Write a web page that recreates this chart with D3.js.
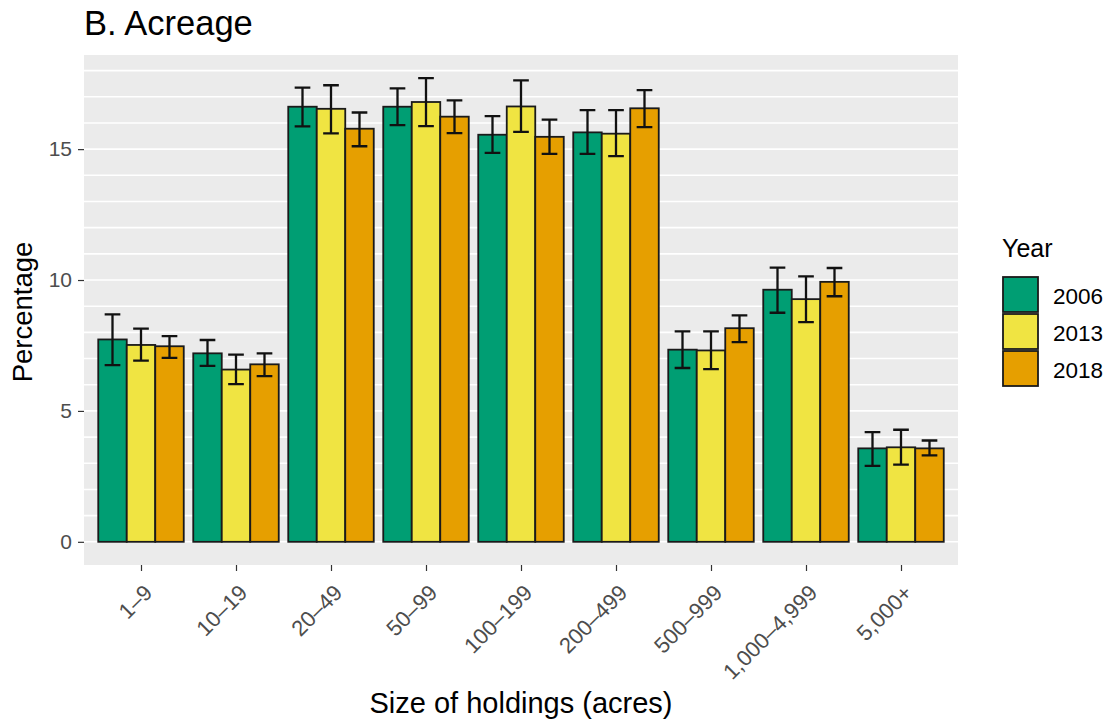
<!DOCTYPE html>
<html>
<head>
<meta charset="utf-8">
<script src="https://cdn.jsdelivr.net/npm/d3@7"></script>
<style>
  html, body { margin: 0; padding: 0; background: #fff; }
  svg { display: block; font-family: "Liberation Sans", Arial, sans-serif; }
</style>
</head>
<body>
<svg id="chart" width="1114" height="725"></svg>
<script>
// Size classes of holdings (acres)
const categories = ["1–9", "10–19", "20–49", "50–99", "100–199", "200–499", "500–999", "1,000–4,999", "5,000+"];
const years = ["2006", "2013", "2018"];
const colors = ["#009E73", "#F0E442", "#E69F00"];

// Percentage of acreage per size class, one array per year
const pct2006 = [7.73, 7.20, 16.62, 16.62, 15.55, 15.64, 7.34, 9.63, 3.57];
const pct2013 = [7.52, 6.58, 16.54, 16.80, 16.63, 15.59, 7.31, 9.27, 3.61];
const pct2018 = [7.47, 6.78, 15.78, 16.24, 15.47, 16.56, 8.16, 9.93, 3.57];

// Error bar bounds
const lo2006 = [6.75, 6.72, 15.87, 15.92, 14.86, 14.82, 6.64, 8.75, 2.90];
const hi2006 = [8.69, 7.71, 17.35, 17.32, 16.26, 16.49, 8.04, 10.47, 4.19];
const lo2013 = [6.92, 6.02, 15.60, 15.88, 15.66, 14.73, 6.60, 8.39, 2.95];
const hi2013 = [8.14, 7.15, 17.44, 17.71, 17.63, 16.49, 8.04, 10.14, 4.28];
const lo2018 = [7.03, 6.33, 15.11, 15.61, 14.82, 15.84, 7.63, 9.38, 3.30];
const hi2018 = [7.86, 7.20, 16.40, 16.86, 16.13, 17.25, 8.65, 10.46, 3.87];

const yTicks = [0, 5, 10, 15];
const yGrid = d3.range(0, 19);

const series = [
  { year: years[0], vals: pct2006, lo: lo2006, hi: hi2006 },
  { year: years[1], vals: pct2013, lo: lo2013, hi: hi2013 },
  { year: years[2], vals: pct2018, lo: lo2018, hi: hi2018 }
];
const rows = [];
series.forEach((s, si) => {
  categories.forEach((c, ci) => {
    rows.push({ cat: c, year: s.year, si, v: s.vals[ci], lo: s.lo[ci], hi: s.hi[ci] });
  });
});

const svg = d3.select("#chart");
const panel = { left: 84, right: 958, top: 55, bottom: 565 };
const FONT = "'Liberation Sans', Arial, sans-serif";

// Discrete x with 0.6-unit padding on each side, bars dodged at width 0.9
const nCat = categories.length;
const unit = (panel.right - panel.left) / (nCat - 1 + 1.2);
const x = d3.scalePoint().domain(categories)
  .range([panel.left + 0.6 * unit, panel.right - 0.6 * unit]);
const groupW = 0.9 * unit;
const xs = d3.scaleBand().domain(d3.range(years.length)).range([-groupW / 2, groupW / 2]).padding(0);

const yMax = d3.max(rows, d => d.hi);
const y = d3.scaleLinear().domain([-0.05 * yMax, yMax * 1.05]).range([panel.bottom, panel.top]);

// Panel background and grid
svg.append("rect")
  .attr("x", panel.left).attr("y", panel.top)
  .attr("width", panel.right - panel.left).attr("height", panel.bottom - panel.top)
  .attr("fill", "#EBEBEB");
svg.append("g").selectAll("line").data(yGrid).join("line")
  .attr("x1", panel.left).attr("x2", panel.right)
  .attr("y1", d => y(d)).attr("y2", d => y(d))
  .attr("stroke", "#fff").attr("stroke-width", 1.6);

// Bars
svg.append("g").selectAll("rect").data(rows).join("rect")
  .attr("x", d => x(d.cat) + xs(d.si))
  .attr("width", xs.bandwidth())
  .attr("y", d => y(d.v))
  .attr("height", d => y(0) - y(d.v))
  .attr("fill", d => colors[d.si])
  .attr("stroke", "#1a1a1a").attr("stroke-width", 1.8);

// Error bars
const capW = xs.bandwidth() * 0.55;
const eb = svg.append("g").attr("stroke", "#111").attr("stroke-width", 2.3).attr("fill", "none");
eb.selectAll("path").data(rows).join("path")
  .attr("d", d => {
    const cx = x(d.cat) + xs(d.si) + xs.bandwidth() / 2;
    const yl = y(d.lo), yh = y(d.hi);
    return `M${cx - capW / 2},${yh}H${cx + capW / 2}M${cx},${yh}V${yl}M${cx - capW / 2},${yl}H${cx + capW / 2}`;
  });

// Y axis
const yAxis = svg.append("g").attr("transform", `translate(${panel.left},0)`)
  .call(d3.axisLeft(y).tickValues(yTicks).tickSize(6).tickPadding(6).tickFormat(d3.format("d")));
yAxis.select(".domain").remove();
yAxis.selectAll(".tick line").attr("stroke", "#333").attr("stroke-width", 1.2);
yAxis.selectAll(".tick text").attr("fill", "#4D4D4D").style("font-size", "21px")
  .style("font-family", FONT);

// X axis
const xAxis = svg.append("g").attr("transform", `translate(0,${panel.bottom})`)
  .call(d3.axisBottom(x).tickSize(6).tickPadding(0));
xAxis.select(".domain").remove();
xAxis.selectAll(".tick line").attr("stroke", "#333").attr("stroke-width", 1.2);
xAxis.selectAll(".tick text")
  .attr("fill", "#4D4D4D").style("font-size", "22px")
  .style("font-family", FONT)
  .attr("text-anchor", "end")
  .attr("dy", "0.72em")
  .attr("transform", "translate(1,18) rotate(-45)")
  .attr("y", 0).attr("x", 0);

// Titles
svg.append("text").attr("x", panel.left).attr("y", 35)
  .attr("fill", "#000").style("font-size", "34.5px").style("font-family", FONT).text("B. Acreage");
svg.append("text")
  .attr("x", (panel.left + panel.right) / 2).attr("y", 713)
  .attr("text-anchor", "middle").attr("fill", "#000").style("font-size", "29px").style("font-family", FONT)
  .text("Size of holdings (acres)");
svg.append("text")
  .attr("transform", `translate(32,${(panel.top + panel.bottom) / 2 + 2}) rotate(-90)`)
  .attr("text-anchor", "middle").attr("fill", "#000").style("font-size", "27.5px").style("font-family", FONT)
  .text("Percentage");

// Legend
const lg = svg.append("g").attr("transform", "translate(1002,0)");
lg.append("text").attr("x", 0).attr("y", 257).attr("fill", "#000")
  .style("font-size", "25px").style("font-family", FONT).text("Year");
const keyH = 37;
const keys = lg.selectAll("g.key").data(years).join("g").attr("class", "key")
  .attr("transform", (d, i) => `translate(0,${276 + i * keyH})`);
keys.append("rect").attr("x", 1).attr("y", 1).attr("width", 35).attr("height", keyH - 2)
  .attr("fill", (d, i) => colors[i]).attr("stroke", "#1a1a1a").attr("stroke-width", 1.8);
keys.append("text").attr("x", 51).attr("y", keyH / 2 + 1).attr("dy", "0.36em")
  .attr("fill", "#000").style("font-size", "22.5px").style("font-family", FONT).text(d => d);
</script>
</body>
</html>
